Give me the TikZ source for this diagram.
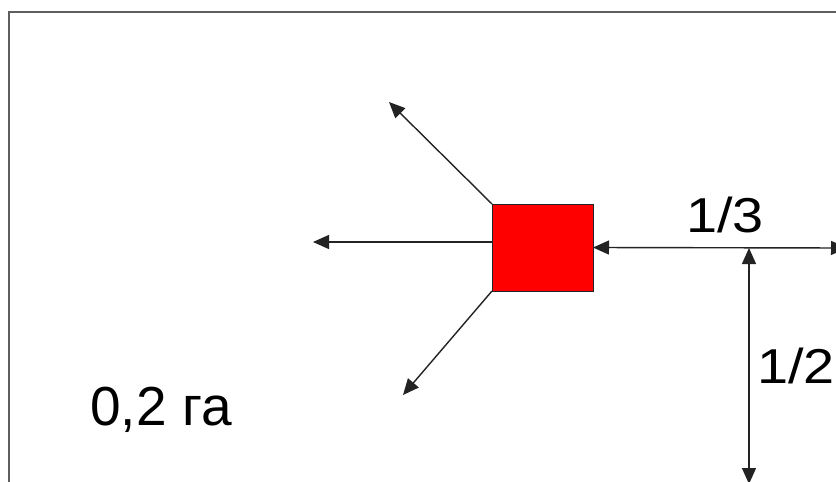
\documentclass[tikz,border=0pt]{standalone}
\usepackage{fontspec}
\usepackage{graphicx}
\setmainfont{Liberation Sans}
\usetikzlibrary{arrows.meta}
\definecolor{framegray}{RGB}{95,95,95}
\definecolor{arrowgray}{RGB}{35,35,35}
\definecolor{boxred}{RGB}{255,0,0}
\tikzset{
  frameline/.style={draw=framegray, line width=2pt},
  sqbox/.style={draw=arrowgray, line width=0.8pt, fill=boxred, minimum width=101pt, minimum height=87pt, inner sep=0pt, outer sep=0pt},
  arr/.style={draw=arrowgray, line width=1.4pt, -{Triangle[length=16pt,width=14pt]}},
  dim/.style={draw=arrowgray, line width=1.4pt, {Triangle[length=16pt,width=14pt]}-{Triangle[length=16pt,width=14pt]}},
  lbl/.style={inner sep=0pt, anchor=base, text=black},
}
\begin{document}
\begin{tikzpicture}[x=1pt,y=-1pt]
\useasboundingbox (0,0) rectangle (836,482);
% frame (top and left edges)
\coordinate (fb) at (9,483);
\coordinate (ftl) at (9,12);
\coordinate (ftr) at (837,12);
\draw[frameline] (fb) -- (ftl) -- (ftr);
% red square
\node[sqbox] (sq) at (542.5,247.5) {};
% outgoing arrows
\coordinate (t1) at (389,102);
\coordinate (w) at (492,242);
\coordinate (t2) at (313,242);
\coordinate (t3) at (403,395);
\draw[arr] (sq.north west) -- (t1);
\draw[arr] (w) -- (t2);
\draw[arr] (sq.south west) -- (t3);
% dimension arrows
\coordinate (hr) at (847,248);
\coordinate (hj) at (749,248);
\coordinate (vb) at (749,484);
\draw[dim] (sq.east) -- (hr);
\draw[dim] (hj) -- (vb);
% labels
\node[lbl] (l13) at (725,232) {\fontsize{49}{55}\selectfont\scalebox{1.14}[1]{1/3}};
\node[lbl] (l12) at (796,383) {\fontsize{49}{55}\selectfont\scalebox{1.14}[1]{1/2}};
\node[lbl] (area) at (161,425) {\fontsize{55}{62}\selectfont 0,2 га};
\end{tikzpicture}
\end{document}
